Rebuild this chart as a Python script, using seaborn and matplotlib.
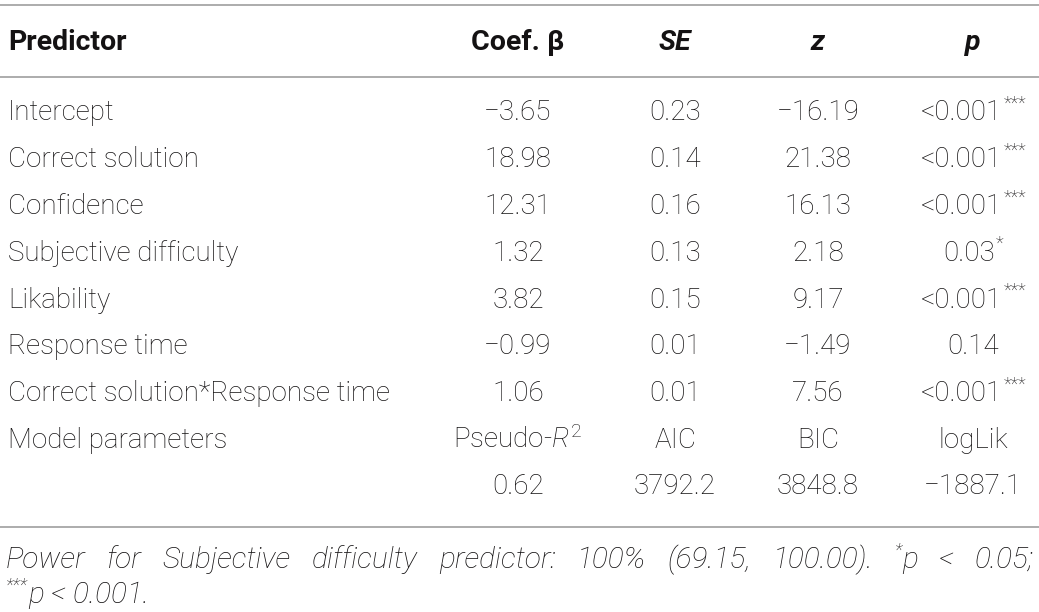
import matplotlib
matplotlib.use("Agg")
import matplotlib.pyplot as plt
import seaborn as sns

predictors = ["Intercept", "Correct solution", "Confidence", "Subjective difficulty",
              "Likability", "Response time", "Correct solution*Response time",
              "Model parameters", ""]
coef = ["\u22123.65", "18.98", "12.31", "1.32", "3.82", "\u22120.99", "1.06",
        "Pseudo-$R^2$", "0.62"]
se = ["0.23", "0.14", "0.16", "0.13", "0.15", "0.01", "0.01", "AIC", "3792.2"]
zval = ["\u221216.19", "21.38", "16.13", "2.18", "9.17", "\u22121.49", "7.56", "BIC", "3848.8"]
pval = ["<0.001", "<0.001", "<0.001", "0.03", "<0.001", "0.14", "<0.001", "logLik", "\u22121887.1"]
pstars = ["***", "***", "***", "*", "***", "", "***", "", ""]
headers = ["Predictor", "Coef. \u03b2", "SE", "z", "p"]
foot1 = ["Power", "for", "Subjective", "difficulty", "predictor:", "100%", "(69.15,",
         "100.00).", "*p", "<", "0.05;"]
foot2 = "p < 0.001."

sns.set_theme(style="white")
plt.rcParams["font.family"] = ["Roboto", "DejaVu Sans"]
plt.rcParams["mathtext.fontset"] = "custom"
plt.rcParams["mathtext.rm"] = "Roboto:light"
plt.rcParams["mathtext.it"] = "Roboto:italic:light"

ink = "#141213"
rule = "#a6a6a6"
fs = 20
foot_fs = 21.5
sup_fs = 13

fig = plt.figure(figsize=(10.39, 6.12), dpi=100)
ax = fig.add_axes([0, 0, 1, 1])
ax.set_xlim(0, 1039)
ax.set_ylim(612, 0)
ax.axis("off")
renderer = fig.canvas.get_renderer()


def width(t):
    return t.get_window_extent(renderer).width


col_x = [8, 518, 675, 818, 973]
for ypos in [5, 77, 527]:
    ax.axhline(ypos, color=rule, lw=1.3)

hstyles = ["normal", "normal", "italic", "italic", "italic"]
for i, h in enumerate(headers):
    ax.text(col_x[i], 42, h, ha="left" if i == 0 else "center", va="center",
            fontsize=fs + 0.5, fontstyle=hstyles[i], fontweight="bold", color=ink)

row_y0, row_h = 113, 46.75
for r in range(len(predictors)):
    y = row_y0 + r * row_h
    cells = [predictors[r], coef[r], se[r], zval[r]]
    for i, c in enumerate(cells):
        ax.text(col_x[i], y, c, ha="left" if i == 0 else "center", va="center",
                fontsize=fs, fontweight="light", color=ink)
    # p column: value plus superscript stars, centred as one piece
    main = ax.text(0, y, pval[r], ha="left", va="center", fontsize=fs,
                   fontweight="light", color=ink)
    star = ax.text(0, y - 9, pstars[r], ha="left", va="center", fontsize=sup_fs,
                   fontweight="light", color=ink)
    wm = width(main)
    ws = width(star) if pstars[r] else 0
    x0 = col_x[4] - (wm + ws) / 2
    main.set_x(x0)
    star.set_x(x0 + wm + 1)

# footnote, first line justified across the width
items = []
for w in foot1:
    if w.startswith("*"):
        s = ax.text(0, 551, "*", ha="left", va="center", fontsize=sup_fs,
                    fontstyle="italic", fontweight="light", color=ink)
        t = ax.text(0, 560, w[1:], ha="left", va="center", fontsize=foot_fs,
                    fontstyle="italic", fontweight="light", color=ink)
        items.append([s, t])
    else:
        t = ax.text(0, 560, w, ha="left", va="center", fontsize=foot_fs,
                    fontstyle="italic", fontweight="light", color=ink)
        items.append([t])
widths = [sum(width(a) for a in it) for it in items]
gap = (1034 - 6 - sum(widths)) / (len(items) - 1)
x = 6
for it, w in zip(items, widths):
    xx = x
    for a in it:
        a.set_x(xx)
        xx += width(a)
    x += w + gap

s2 = ax.text(6, 586, "***", ha="left", va="center", fontsize=sup_fs,
             fontstyle="italic", fontweight="light", color=ink)
ax.text(6 + width(s2), 595, foot2, ha="left", va="center", fontsize=foot_fs,
        fontstyle="italic", fontweight="light", color=ink)

fig.savefig("out.png", dpi=100)
